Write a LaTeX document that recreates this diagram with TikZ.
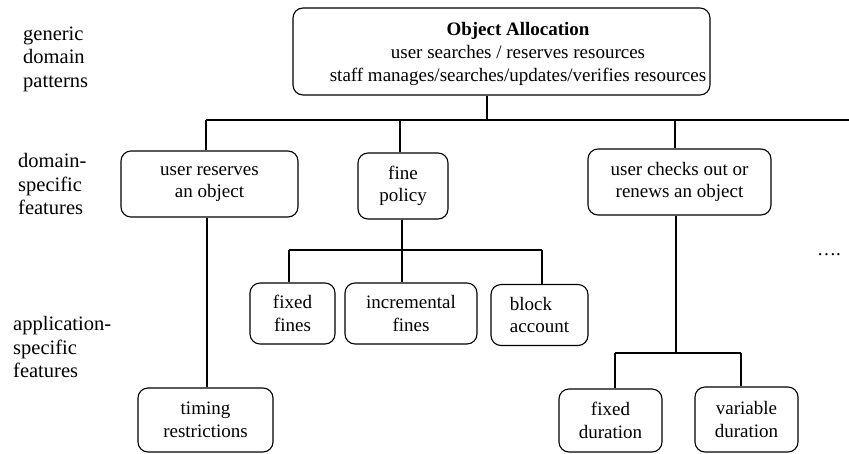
\documentclass[tikz,border=0pt]{standalone}
\usepackage{fontspec}
\setmainfont{Liberation Serif}
\begin{document}
\begin{tikzpicture}[x=1pt,y=-1pt,
  box/.style={draw, line width=1.1pt, rounded corners=10pt, align=center,
    inner sep=0pt, font=\fontsize{19}{22.5}\selectfont},
  level/.style={anchor=west, align=left, inner sep=0pt,
    font=\fontsize{20.5}{23.5}\selectfont},
  link/.style={line width=1.1pt}]
\useasboundingbox (0,0) rectangle (849,453);

% level labels
\node[level] (lgen) at (23,59) {generic\\domain\\patterns};
\node[level] (ldom) at (18,184) {domain-\\specific\\features};
\node[level] (lapp) at (13,347) {application-\\specific\\features};

% generic pattern (text sits a little right of the frame centre)
\node[box, minimum width=417, minimum height=87] (top) at (501.5,51.5) {};
\node[align=center, inner sep=0pt, font=\fontsize{19}{23}\selectfont] (toptext) at (518,54)
  {\textbf{Object Allocation}\\user searches / reserves resources\\staff manages/searches/updates/verifies resources};

% domain-specific features
\node[box, minimum width=177, minimum height=66] (res) at (209.5,184) {user reserves\\an object};
\node[box, minimum width=90, minimum height=66] (fine) at (403,186) {fine\\policy};
\node[box, minimum width=183, minimum height=66] (chk) at (679.5,182) {user checks out or\\renews an object};

% application-specific features
\node[box, minimum width=85, minimum height=61] (ffix) at (292.5,313.5) {fixed\\fines};
\node[box, minimum width=132, minimum height=61] (finc) at (411,313.5) {incremental\\fines};
\node[box, minimum width=97, minimum height=61, align=left] (fblk) at (539.5,315) {block\\account};
\node[box, minimum width=135, minimum height=64] (tim) at (205.5,420) {timing\\restrictions};
\node[box, minimum width=103, minimum height=63] (dfix) at (610.5,420.5) {fixed\\duration};
\node[box, minimum width=103, minimum height=65] (dvar) at (746.5,419.5) {variable\\duration};

\node[font=\fontsize{19}{22}\selectfont, inner sep=0pt] (more) at (829,255) {\ldots.};

% top-level bus
\coordinate (busL) at (206,120);
\coordinate (busR) at (849,120);
\coordinate (busF) at (400,120);
\coordinate (busC) at (675,120);
\coordinate (stem) at (487,120);
\draw[link] (top.south -| stem) -- (stem);
\draw[link] (busL) -- (busR);
\draw[link] (busL) -- (busL |- res.north);
\draw[link] (busF) -- (busF |- fine.north);
\draw[link] (busC) -- (busC |- chk.north);

% user reserves an object
\coordinate (rx) at (207,300);
\draw[link] (res.south -| rx) -- (tim.north -| rx);

% fine policy bus
\coordinate (fbL) at (289,250);
\coordinate (fbM) at (402,250);
\coordinate (fbR) at (542,250);
\draw[link] (fine.south -| fbM) -- (finc.north -| fbM);
\draw[link] (fbL) -- (fbR);
\draw[link] (fbL) -- (fbL |- ffix.north);
\draw[link] (fbR) -- (fbR |- fblk.north);

% checks out bus
\coordinate (cbL) at (615,353);
\coordinate (cbM) at (676,353);
\coordinate (cbR) at (741,353);
\draw[link] (chk.south -| cbM) -- (cbM);
\draw[link] (cbL) -- (cbR);
\draw[link] (cbL) -- (cbL |- dfix.north);
\draw[link] (cbR) -- (cbR |- dvar.north);
\end{tikzpicture}
\end{document}
